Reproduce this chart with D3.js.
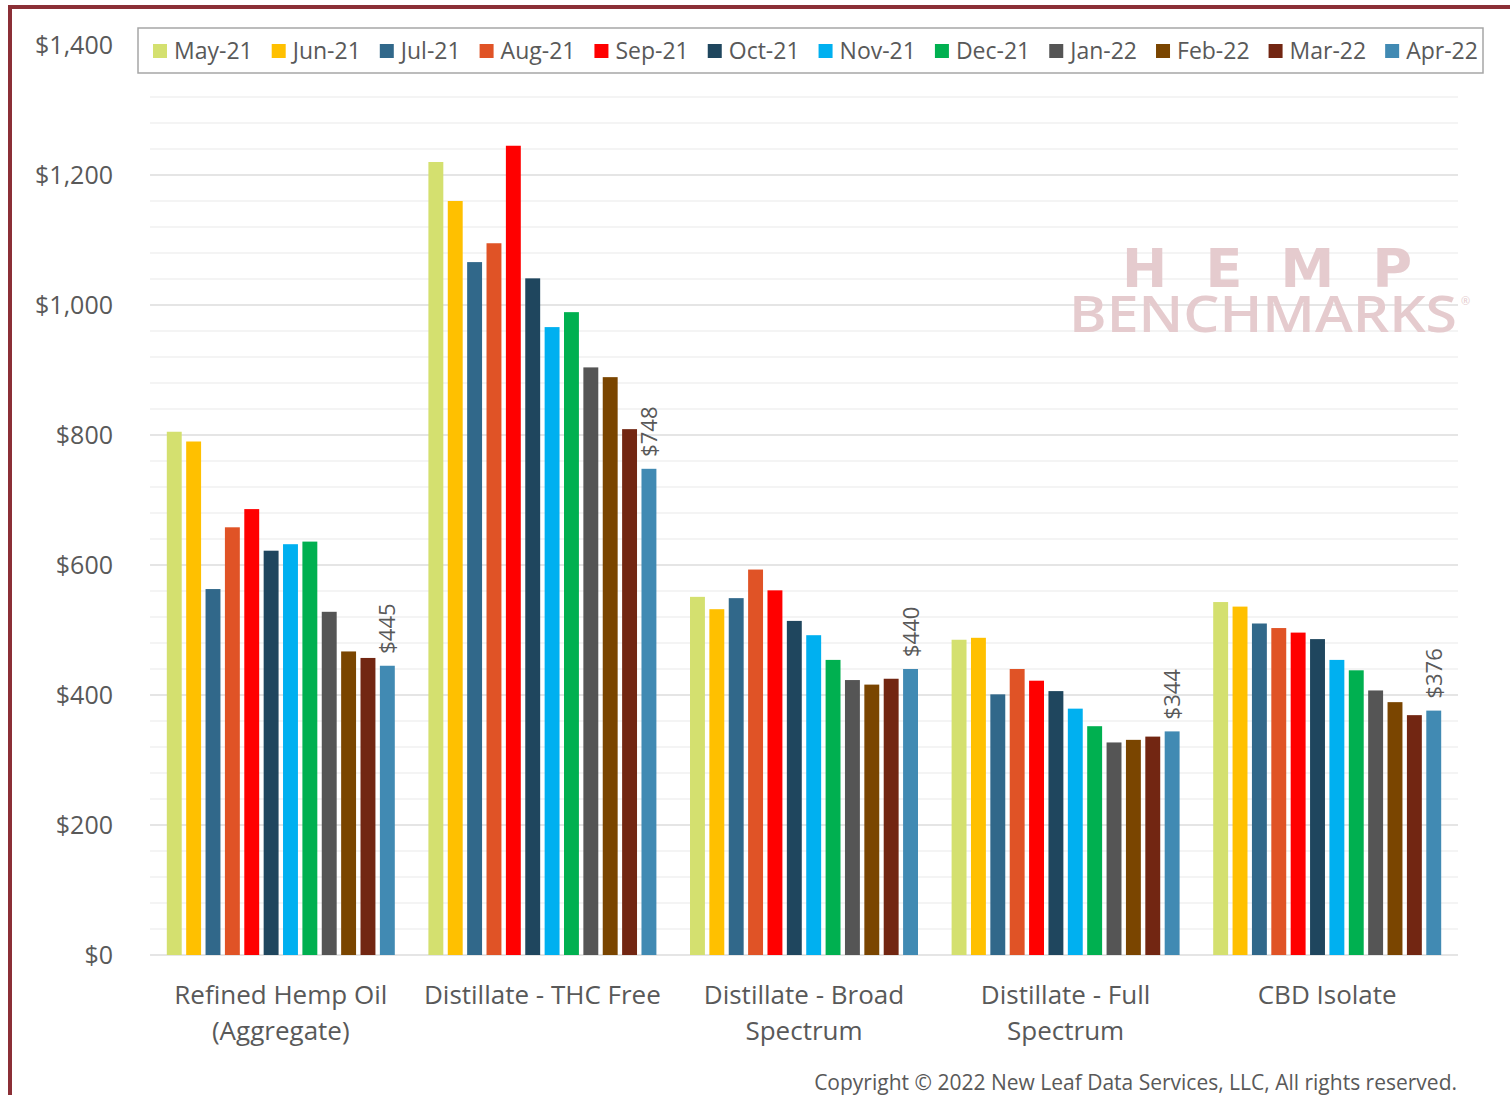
<!DOCTYPE html>
<html>
<head>
<meta charset="utf-8">
<script src="https://cdn.jsdelivr.net/npm/d3@7"></script>
<style>
	body { margin: 0; background: #fff; }
	text { font-family: "Open Sans", sans-serif; fill: #595959; }
</style>
</head>
<body>
<div id="chart-area"></div>
<script>
// Hemp Benchmarks - wholesale prices by product, May-21 to Apr-22
const categories = [
	["Refined Hemp Oil", "(Aggregate)"],
	["Distillate - THC Free"],
	["Distillate - Broad", "Spectrum"],
	["Distillate - Full", "Spectrum"],
	["CBD Isolate"]
];
const months = ["May-21", "Jun-21", "Jul-21", "Aug-21", "Sep-21", "Oct-21",
	"Nov-21", "Dec-21", "Jan-22", "Feb-22", "Mar-22", "Apr-22"];
const monthColors = ["#d4e06f", "#ffc000", "#31688a", "#e05326", "#ff0000", "#1f465e",
	"#00b0f0", "#00b050", "#555555", "#7a4500", "#722612", "#418ab3"];

const refinedOil = [805, 790, 563, 658, 686, 622, 632, 636, 528, 467, 457, 445];
const thcFree = [1220, 1160, 1066, 1095, 1245, 1041, 966, 989, 904, 889, 809, 748];
const broadSpectrum = [551, 532, 549, 593, 561, 514, 492, 454, 423, 416, 425, 440];
const fullSpectrum = [485, 488, 401, 440, 422, 406, 379, 352, 327, 331, 336, 344];
const cbdIsolate = [543, 536, 510, 503, 496, 486, 454, 438, 407, 389, 369, 376];
const seriesValues = [refinedOil, thcFree, broadSpectrum, fullSpectrum, cbdIsolate];

const yTicks = [0, 200, 400, 600, 800, 1000, 1200, 1400];

const svgWidth = 1510,
	svgHeight = 1095;
const plot = {left: 150, right: 1458, top: 45, bottom: 955};

const svg = d3.select("#chart-area")
	.append("svg")
	.attr("width", svgWidth)
	.attr("height", svgHeight);

// frame
svg.append("rect")
	.attr("x", 8).attr("y", 5)
	.attr("width", svgWidth).attr("height", 4)
	.attr("fill", "#8b2f36");
svg.append("rect")
	.attr("x", 8).attr("y", 5)
	.attr("width", 4).attr("height", svgHeight)
	.attr("fill", "#8b2f36");

const y = d3.scaleLinear().domain([0, 1400])
	.range([plot.bottom, plot.top]);
const x0 = d3.scaleBand().domain(d3.range(categories.length))
	.range([plot.left, plot.right]).padding(0);
const groupPad = 16.8;
const x1 = d3.scaleBand().domain(months)
	.range([groupPad, x0.bandwidth() - groupPad])
	.paddingInner(0.23).paddingOuter(0);
const color = d3.scaleOrdinal().domain(months).range(monthColors);

// gridlines: minor every $40, major every $200
const minor = d3.range(40, 1400 + 1, 40).filter(v => v % 200 !== 0);
svg.append("g").selectAll("line").data(minor).enter().append("line")
	.attr("x1", plot.left).attr("x2", plot.right)
	.attr("y1", d => y(d)).attr("y2", d => y(d))
	.attr("stroke", "#f0f0f0").attr("stroke-width", 1.5);
svg.append("g").selectAll("line").data(yTicks).enter().append("line")
	.attr("x1", plot.left).attr("x2", plot.right)
	.attr("y1", d => y(d)).attr("y2", d => y(d))
	.attr("stroke", "#dcdcdc").attr("stroke-width", 1.5);

// y axis labels
const yAxis = svg.append("g")
	.attr("transform", `translate(${plot.left - 34}, 0)`)
	.call(d3.axisLeft(y).tickValues(yTicks).tickSize(0)
		.tickFormat(d => "$" + d3.format(",")(d)));
yAxis.select(".domain").remove();
yAxis.selectAll("text")
	.attr("font-size", "25px")
	.attr("fill", "#595959")
	.style("font-family", "'Open Sans', sans-serif");

// watermark
const mark = svg.append("g");
mark.append("text")
	.attr("x", 1122).attr("y", 287)
	.attr("textLength", 290).attr("lengthAdjust", "spacing")
	.attr("font-size", "54px").attr("font-weight", "bold")
	.style("font-family", "'DejaVu Sans', sans-serif")
	.style("fill", "#e5cbce")
	.text("HEMP");
mark.append("text")
	.attr("x", 1069).attr("y", 332)
	.attr("textLength", 388).attr("lengthAdjust", "spacingAndGlyphs")
	.attr("font-size", "51px").attr("font-weight", 600)
	.style("font-family", "'Open Sans', sans-serif")
	.style("fill", "#e5cbce")
	.text("BENCHMARKS");
mark.append("text")
	.attr("x", 1461).attr("y", 305)
	.attr("font-size", "11px")
	.style("fill", "#e5cbce")
	.text("®");

// bars
const groups = svg.append("g").selectAll("g")
	.data(seriesValues).enter().append("g")
	.attr("transform", (d, i) => `translate(${x0(i)}, 0)`);

groups.selectAll("rect")
	.data(d => d.map((v, j) => ({month: months[j], value: v})))
	.enter().append("rect")
	.attr("x", d => x1(d.month))
	.attr("y", d => y(d.value))
	.attr("width", x1.bandwidth())
	.attr("height", d => y(0) - y(d.value))
	.attr("fill", d => color(d.month));

// value label on the latest month
groups.append("text")
	.attr("transform", d => {
		const last = months[months.length - 1];
		const cx = x1(last) + x1.bandwidth() / 2 + 8;
		return `translate(${cx}, ${y(d[d.length - 1]) - 12}) rotate(-90)`;
	})
	.attr("font-size", "22px")
	.text(d => "$" + d[d.length - 1]);

// category labels
const catLabels = svg.append("g").selectAll("text")
	.data(categories).enter().append("text")
	.attr("x", (d, i) => x0(i) + x0.bandwidth() / 2)
	.attr("y", 1004)
	.attr("text-anchor", "middle")
	.attr("font-size", "26px");
catLabels.selectAll("tspan")
	.data(d => d).enter().append("tspan")
	.attr("x", function() { return d3.select(this.parentNode).attr("x"); })
	.attr("dy", (d, i) => i === 0 ? 0 : 36)
	.text(d => d);

// legend
svg.append("rect")
	.attr("x", 138).attr("y", 28)
	.attr("width", 1345).attr("height", 45)
	.attr("fill", "#fff")
	.attr("stroke", "#a6a6a6").attr("stroke-width", 1.5);
const legend = svg.append("g");
let lx = 153;
months.forEach(m => {
	legend.append("rect")
		.attr("x", lx).attr("y", 44)
		.attr("width", 14).attr("height", 14)
		.attr("fill", color(m));
	const t = legend.append("text")
		.attr("x", lx + 21).attr("y", 59)
		.attr("font-size", "23px")
		.text(m);
	lx += 21 + t.node().getComputedTextLength() + 19;
});

// footer
svg.append("text")
	.attr("x", 1457).attr("y", 1090)
	.attr("text-anchor", "end")
	.attr("font-size", "21px")
	.text("Copyright © 2022 New Leaf Data Services, LLC, All rights reserved.");
</script>
</body>
</html>
